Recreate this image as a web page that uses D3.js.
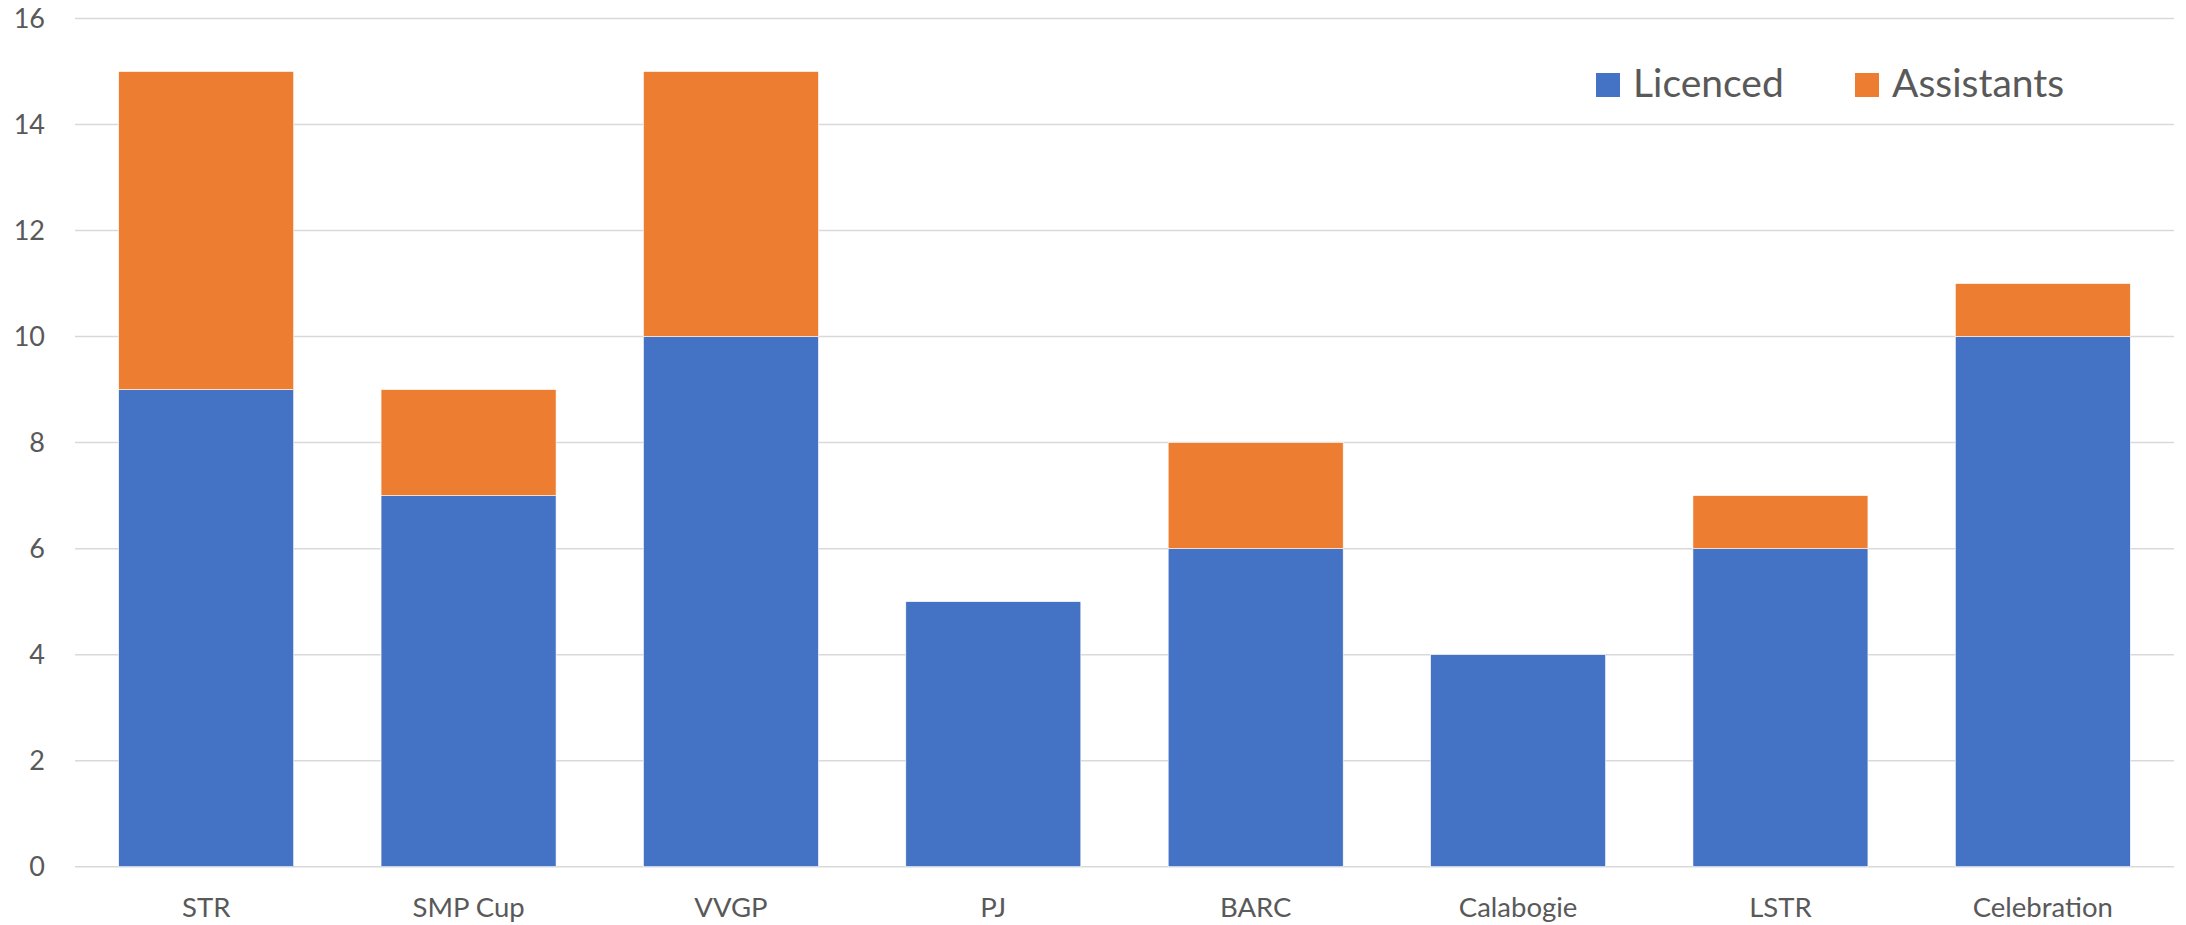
<!DOCTYPE html>
<html lang="en">
<head>
  <meta charset="UTF-8">
  <title>Licenced and Assistants</title>
  <script src="https://d3js.org/d3.v7.min.js"></script>
  <style>
    body { margin: 0; background: #fff; }
    text { font-family: Lato, "Open Sans", sans-serif; fill: #595959; }
    .grid line { stroke: #d9d9d9; stroke-width: 1.5; }
  </style>
</head>
<body>
  <svg id="chart" width="2186" height="925"></svg>
  <script>
    // chart values
    const categories = ['STR', 'SMP Cup', 'VVGP', 'PJ', 'BARC', 'Calabogie', 'LSTR', 'Celebration'];
    const licenced = [9, 7, 10, 5, 6, 4, 6, 10];
    const assistants = [6, 2, 5, 0, 2, 0, 1, 1];
    const yTicks = [0, 2, 4, 6, 8, 10, 12, 14, 16];
    const seriesNames = ['Licenced', 'Assistants'];
    const colors = ['#4472c4', '#ed7d31'];

    const svg = d3.select('#chart');
    const plotLeft = 75, plotRight = 2174, plotTop = 18.5, plotBottom = 866.7;

    const x = d3.scaleBand().domain(categories).range([plotLeft, plotRight]).paddingInner(0.333).paddingOuter(0.1665);
    const y = d3.scaleLinear().domain([0, 16]).range([plotBottom, plotTop]);

    // gridlines
    svg.append('g').attr('class', 'grid')
      .selectAll('line').data(yTicks).enter().append('line')
      .attr('x1', plotLeft).attr('x2', plotRight)
      .attr('y1', d => y(d)).attr('y2', d => y(d));

    // stacked bars
    const rows = categories.map((c, i) => ({ cat: c, Licenced: licenced[i], Assistants: assistants[i] }));
    const stacked = d3.stack().keys(seriesNames)(rows);

    svg.append('g').selectAll('g').data(stacked).enter().append('g')
      .attr('fill', (d, i) => colors[i])
      .selectAll('rect').data(d => d.filter(p => p[1] > p[0])).enter().append('rect')
      .attr('x', d => x(d.data.cat))
      .attr('width', x.bandwidth())
      .attr('y', d => y(d[1]))
      .attr('height', d => y(d[0]) - y(d[1]))
      .attr('stroke', '#fff').attr('stroke-width', 0.6);

    // y axis labels
    svg.append('g').selectAll('text').data(yTicks).enter().append('text')
      .attr('x', plotLeft - 30).attr('y', d => y(d))
      .attr('dy', '0.36em').attr('text-anchor', 'end')
      .style('font-size', '27px')
      .text(d => d);

    // x axis labels
    svg.append('g').selectAll('text').data(categories).enter().append('text')
      .attr('x', d => x(d) + x.bandwidth() / 2).attr('y', 917)
      .attr('text-anchor', 'middle')
      .style('font-size', '27.5px')
      .text(d => d);

    // legend
    const legendX = [1596, 1855];
    const legend = svg.append('g').selectAll('g').data(seriesNames).enter().append('g')
      .attr('transform', (d, i) => `translate(${legendX[i]},0)`);
    legend.append('rect')
      .attr('x', 0).attr('y', 73).attr('width', 24).attr('height', 24)
      .attr('fill', (d, i) => colors[i]);
    legend.append('text')
      .attr('x', 37).attr('y', 97)
      .style('font-size', '39px')
      .text(d => d);
  </script>
</body>
</html>
